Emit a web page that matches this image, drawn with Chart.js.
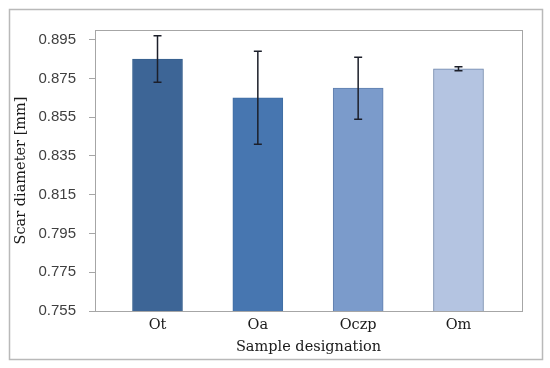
<!DOCTYPE html>
<html>
<head>
<meta charset="utf-8">
<script src="https://cdn.jsdelivr.net/npm/chart.js@4/dist/chart.umd.min.js"></script>
<style>
html,body{margin:0;padding:0;background:#fff;}
canvas{display:block;}
</style>
</head>
<body>
<canvas id="c" width="550" height="368"></canvas>
<script>
const categories = ['Ot', 'Oa', 'Oczp', 'Om'];
const means = [0.885, 0.865, 0.870, 0.880];
const errors = [0.012, 0.024, 0.016, 0.001];
const yTicks = [0.755, 0.775, 0.795, 0.815, 0.835, 0.855, 0.875, 0.895];
const yMin = 0.755;
const yMax = 0.9;
const barColors = ['#3d6596', '#4776b0', '#7b9bcb', '#b4c4e1'];
const barBorders = ['#37608e', '#416ea4', '#5f7fae', '#6f86ab'];

const framePlugin = {
  id: 'frame',
  beforeDraw(chart) {
    const ctx = chart.ctx;
    ctx.save();
    ctx.fillStyle = '#ffffff';
    ctx.fillRect(0, 0, chart.width, chart.height);
    ctx.strokeStyle = '#b9b9b9';
    ctx.lineWidth = 1.5;
    ctx.strokeRect(9.5, 9.5, 533, 350);
    ctx.restore();
  },
  afterDraw(chart) {
    const a = chart.chartArea;
    const ctx = chart.ctx;
    ctx.save();
    ctx.strokeStyle = '#a6a6a6';
    ctx.lineWidth = 1;
    ctx.strokeRect(Math.round(a.left) + 0.5, Math.round(a.top) + 0.5, Math.round(a.right - a.left), Math.round(a.bottom - a.top));
    ctx.restore();
  }
};

const errorPlugin = {
  id: 'errbars',
  afterDatasetsDraw(chart) {
    const ctx = chart.ctx;
    const xs = chart.scales.x, ys = chart.scales.y;
    ctx.save();
    ctx.strokeStyle = '#1c1f2a';
    ctx.lineWidth = 1.5;
    means.forEach((m, i) => {
      const x = xs.getPixelForValue(i);
      const yTop = ys.getPixelForValue(m + errors[i]);
      const yBot = ys.getPixelForValue(m - errors[i]);
      const cap = 4;
      ctx.beginPath();
      ctx.moveTo(x, yTop); ctx.lineTo(x, yBot);
      ctx.moveTo(x - cap, yTop); ctx.lineTo(x + cap, yTop);
      ctx.moveTo(x - cap, yBot); ctx.lineTo(x + cap, yBot);
      ctx.stroke();
    });
    ctx.restore();
  }
};

new Chart(document.getElementById('c'), {
  type: 'bar',
  data: {
    datasets: [{
      data: means.map((v, i) => ({ x: i, y: v })),
      backgroundColor: barColors,
      borderColor: barBorders,
      borderWidth: 1,
      barThickness: 50
    }]
  },
  options: {
    responsive: false,
    animation: false,
    devicePixelRatio: 1,
    layout: { padding: { left: 0, top: 30, right: 28, bottom: 0 } },
    plugins: { legend: { display: false }, tooltip: { enabled: false } },
    scales: {
      x: {
        type: 'linear',
        offset: false,
        min: -0.623,
        max: 3.633,
        afterBuildTicks(scale) { scale.ticks = categories.map((c, i) => ({ value: i })); },
        afterFit(scale) { scale.height = 57; },
        grid: { display: false, drawTicks: false, offset: false },
        border: { display: false },
        ticks: {
          padding: 6,
          autoSkip: false,
          maxRotation: 0,
          color: '#1a1a1a',
          font: { family: 'DejaVu Serif', size: 14.5 },
          callback: (v) => categories[v]
        },
        title: {
          display: true,
          text: 'Sample designation',
          color: '#1a1a1a',
          font: { family: 'DejaVu Serif', size: 14.5 },
          padding: { top: 0, bottom: 12 }
        }
      },
      y: {
        min: yMin,
        max: yMax,
        afterBuildTicks(scale) { scale.ticks = yTicks.map(v => ({ value: v })); },
        afterFit(scale) { scale.width = 95; },
        grid: { display: true, drawOnChartArea: false, drawTicks: true, tickLength: 6, color: '#a6a6a6' },
        border: { display: true, color: '#a6a6a6' },
        ticks: {
          padding: 13,
          color: '#404040',
          font: { family: 'Liberation Sans', size: 15 },
          callback: (v) => Number(v).toFixed(3)
        },
        title: {
          display: true,
          text: 'Scar diameter [mm]',
          color: '#1a1a1a',
          font: { family: 'DejaVu Serif', size: 14.5 },
          padding: { top: 13, bottom: 0 }
        }
      }
    }
  },
  plugins: [framePlugin, errorPlugin]
});
</script>
</body>
</html>
